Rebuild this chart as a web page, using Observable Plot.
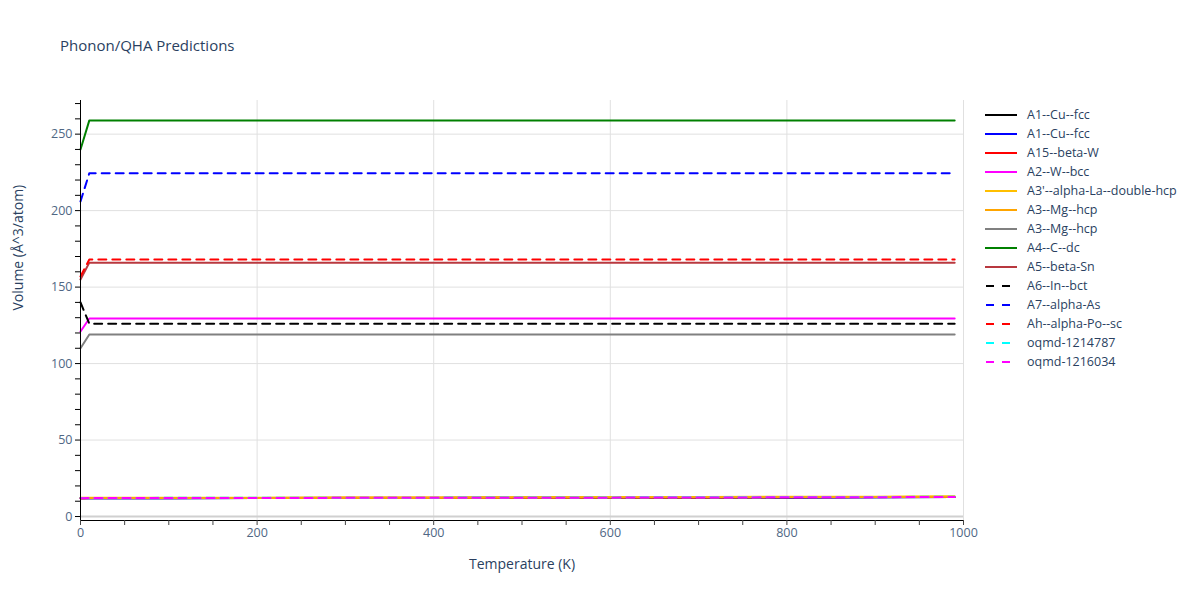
<!DOCTYPE html>
<html><head><meta charset="utf-8">
<script src="https://cdn.jsdelivr.net/npm/d3@7"></script>
<script src="https://cdn.jsdelivr.net/npm/@observablehq/plot@0.6"></script>
<style>
body{margin:0;background:#fff;font-family:"Open Sans",sans-serif;}
#wrap{position:relative;width:1200px;height:600px;}
#title{position:absolute;left:60px;top:35px;font-size:15px;color:#2a3f5f;}
#legend{position:absolute;left:985px;top:105px;font-size:12.5px;color:#2a3f5f;}
.li{height:19px;display:flex;align-items:center;}
.li svg{margin-right:6px;}
</style></head>
<body><div id="wrap"><div id="title">Phonon/QHA Predictions</div><div id="chart"></div><div id="legend"></div></div>
<script>
const temps = [0, 10, 100, 200, 300, 400, 500, 600, 700, 800, 900, 990];
const names = ["A1--Cu--fcc","A1--Cu--fcc","A15--beta-W","A2--W--bcc","A3'--alpha-La--double-hcp","A3--Mg--hcp","A3--Mg--hcp","A4--C--dc","A5--beta-Sn","A6--In--bct","A7--alpha-As","Ah--alpha-Po--sc","oqmd-1214787","oqmd-1216034"];
const colors = ["#000000","#0000ff","#ff0000","#ff00ff","#ffbf00","#ffa500","#808080","#008000","#b8383f","#000000","#0000ff","#ff0000","#00ffff","#ff00ff"];
const dashed = [false,false,false,false,false,false,false,false,false,true,true,true,true,true];
const vA1a = [11.9,11.95,12.0,12.05,12.1,12.15,12.2,12.3,12.4,12.5,12.6,12.7];
const vA1b = [11.9,11.95,12.0,12.05,12.1,12.15,12.2,12.3,12.4,12.5,12.6,12.7];
const vA15 = [12.0,12.05,12.1,12.15,12.2,12.25,12.3,12.4,12.5,12.6,12.7,12.8];
const vA2 = [121,129.5,129.5,129.5,129.5,129.5,129.5,129.5,129.5,129.5,129.5,129.5];
const vA3p = [12.2,12.25,12.3,12.35,12.4,12.5,12.6,12.7,12.8,12.9,13.0,13.2];
const vA3a = [12.0,12.05,12.1,12.15,12.2,12.3,12.4,12.5,12.6,12.7,12.8,13.0];
const vA3b = [110,119,119,119,119,119,119,119,119,119,119,119];
const vA4 = [240,259,259,259,259,259,259,259,259,259,259,259];
const vA5 = [155,166,166,166,166,166,166,166,166,166,166,166];
const vA6 = [140,126,126,126,126,126,126,126,126,126,126,126];
const vA7 = [206,224.5,224.5,224.5,224.5,224.5,224.5,224.5,224.5,224.5,224.5,224.5];
const vAh = [157,168,168,168,168,168,168,168,168,168,168,168];
const vOq1 = [12.1,12.15,12.2,12.25,12.3,12.35,12.4,12.5,12.6,12.7,12.8,12.9];
const vOq2 = [12.0,12.05,12.1,12.15,12.2,12.25,12.3,12.35,12.45,12.55,12.65,12.8];
const series = [vA1a,vA1b,vA15,vA2,vA3p,vA3a,vA3b,vA4,vA5,vA6,vA7,vAh,vOq1,vOq2];
const yTicks = d3.range(0, 271, 10);
const yLabels = [0,50,100,150,200,250];
const xTicks = d3.range(0, 1001, 50);
const xLabels = [0,200,400,600,800,1000];

const lineMarks = series.map((vals, i) => Plot.line(temps.map((t,j)=>({t, v: vals[j]})), {
  x: "t", y: "v", stroke: colors[i], strokeWidth: 2,
  strokeDasharray: dashed[i] ? "8,6" : null
}));

const chart = Plot.plot({
  width: 1200, height: 600,
  marginLeft: 80, marginRight: 237, marginTop: 100, marginBottom: 80,
  style: {fontFamily: "Open Sans, sans-serif", fontSize: "12px", color: "#2a3f5f", background: "#fff"},
  x: {domain: [0, 1000]},
  y: {domain: [-2.6, 272]},
  marks: [
    Plot.ruleY(yLabels.filter(d=>d>0), {stroke: "#e0e0e0", strokeWidth: 1}),
    Plot.ruleX(xLabels.filter(d=>d>0), {stroke: "#e0e0e0", strokeWidth: 1}),
    Plot.ruleY([0], {stroke: "#d0d0d0", strokeWidth: 2}),
    ...lineMarks,
    Plot.ruleX([0], {stroke: "#000", strokeWidth: 1}),
    Plot.ruleY([-2.6], {stroke: "#000", strokeWidth: 1}),
    Plot.axisY({ticks: yTicks, tickFormat: d => yLabels.includes(d) ? String(d) : "", tickSize: 5, tickPadding: 3, stroke: "#000", label: null, fill: "#506784", fontSize: 12.5}),
    Plot.axisX({ticks: xTicks, tickFormat: d => xLabels.includes(d) ? String(d) : "", tickSize: 5, tickPadding: 3, stroke: "#444", label: null, fill: "#506784", fontSize: 12.5}),
    Plot.text(["Temperature (K)"], {frameAnchor: "bottom", dy: 48, fontSize: 14, fill: "#2a3f5f"}),
    Plot.text(["Volume (Å^3/atom)"], {frameAnchor: "left", dx: -62, rotate: -90, fontSize: 14, fill: "#2a3f5f"})
  ]
});
document.getElementById("chart").appendChild(chart);

const leg = document.getElementById("legend");
names.forEach((n,i)=>{
  const d = document.createElement("div"); d.className = "li";
  d.innerHTML = `<svg width="36" height="10"><line x1="0" y1="5" x2="32" y2="5" stroke="${colors[i]}" stroke-width="2" ${dashed[i]?'stroke-dasharray="8,8" stroke-dashoffset="-1"':''}/></svg><span>${n}</span>`;
  leg.appendChild(d);
});
</script></body></html>
